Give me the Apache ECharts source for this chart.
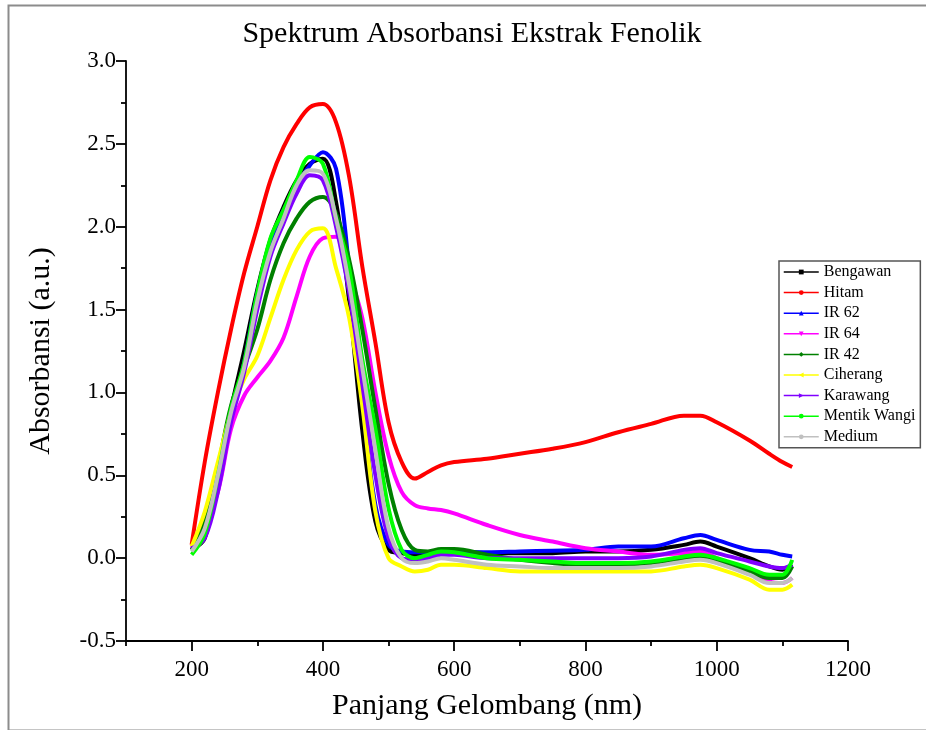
<!DOCTYPE html>
<html>
<head>
<meta charset="utf-8">
<script src="https://cdn.jsdelivr.net/npm/echarts@6/dist/echarts.min.js"></script>
<style>
html,body{margin:0;padding:0;background:#fff;}
#chart{width:926px;height:730px;}
</style>
</head>
<body>
<div id="chart"></div>
<script>
// ---- data ----
const wavelengths = [200,220,240,260,280,300,320,340,360,380,400,420,440,460,480,500,520,540,560,580,600,650,700,750,800,850,900,950,975,1000,1050,1080,1100,1115];
const bengawan    = [0.05,0.12,0.48,0.90,1.25,1.62,1.92,2.12,2.28,2.38,2.41,2.15,1.55,0.77,0.22,0.05,0.03,0.02,0.03,0.04,0.04,0.03,0.03,0.03,0.04,0.04,0.05,0.08,0.10,0.07,0.00,-0.05,-0.07,-0.04];
const hitam       = [0.08,0.58,1.00,1.38,1.72,2.00,2.28,2.48,2.62,2.72,2.74,2.63,2.30,1.76,1.30,0.82,0.58,0.48,0.52,0.56,0.58,0.60,0.63,0.66,0.70,0.76,0.81,0.86,0.86,0.82,0.71,0.63,0.58,0.55];
const ir62        = [0.05,0.14,0.46,0.86,1.18,1.60,1.90,2.10,2.25,2.37,2.45,2.35,1.75,0.95,0.32,0.08,0.04,0.035,0.035,0.035,0.035,0.035,0.04,0.045,0.05,0.07,0.07,0.12,0.14,0.11,0.05,0.04,0.02,0.01];
const ir64        = [0.06,0.20,0.40,0.78,0.98,1.09,1.19,1.33,1.58,1.82,1.93,1.94,1.72,1.45,1.00,0.62,0.40,0.32,0.30,0.29,0.27,0.20,0.14,0.10,0.06,0.04,0.02,0.03,0.04,0.00,-0.08,-0.14,-0.15,-0.12];
const ir42        = [0.05,0.22,0.55,0.92,1.15,1.38,1.68,1.90,2.05,2.15,2.18,2.08,1.80,1.38,0.90,0.45,0.17,0.05,0.04,0.055,0.055,0.02,-0.01,-0.03,-0.04,-0.04,-0.03,0.00,0.01,-0.01,-0.08,-0.12,-0.12,-0.05];
const ciherang    = [0.07,0.28,0.58,0.88,1.08,1.22,1.45,1.68,1.86,1.97,1.99,1.75,1.45,0.92,0.28,0.00,-0.05,-0.08,-0.07,-0.04,-0.04,-0.06,-0.08,-0.08,-0.08,-0.08,-0.08,-0.05,-0.04,-0.06,-0.13,-0.19,-0.19,-0.16];
const karawang    = [0.06,0.12,0.40,0.82,1.12,1.50,1.82,2.02,2.20,2.31,2.28,2.00,1.60,1.05,0.50,0.12,0.00,-0.01,0.00,0.02,0.02,0.00,0.00,0.00,0.00,0.00,0.01,0.05,0.06,0.03,-0.02,-0.05,-0.06,-0.04];
const mentikWangi = [0.02,0.15,0.50,0.90,1.18,1.60,1.93,2.10,2.28,2.42,2.38,2.05,1.75,1.20,0.78,0.30,0.05,0.00,0.02,0.04,0.035,0.00,-0.01,-0.02,-0.03,-0.03,-0.02,0.01,0.02,0.00,-0.06,-0.10,-0.10,-0.01];
const medium      = [0.04,0.18,0.50,0.88,1.15,1.55,1.85,2.05,2.25,2.34,2.32,2.05,1.65,1.15,0.65,0.18,0.00,-0.03,-0.02,0.00,-0.01,-0.04,-0.05,-0.06,-0.06,-0.06,-0.05,-0.02,-0.01,-0.03,-0.10,-0.15,-0.15,-0.12];

const seriesNames  = ['Bengawan','Hitam','IR 62','IR 64','IR 42','Ciherang','Karawang','Mentik Wangi','Medium'];
const seriesValues = [bengawan, hitam, ir62, ir64, ir42, ciherang, karawang, mentikWangi, medium];
const xTickLabels  = [200,400,600,800,1000,1200];
const xMinorTicks  = [100,300,500,700,900,1100];
const yTickLabels  = [-0.5,0.0,0.5,1.0,1.5,2.0,2.5,3.0];

// ---- style ----
const colors  = ['#000000','#ff0000','#0000ff','#ff00ff','#008000','#ffff00','#8000ff','#00ff00','#c0c0c0'];
const symbols = ['rect','circle','triangle','triangle','diamond','triangle','triangle','circle','circle'];
const rotates = [0,0,0,180,0,90,-90,0,0];
const FONT = '"Liberation Serif","Times New Roman",serif';

const chart = echarts.init(document.getElementById('chart'), null, {renderer:'canvas'});

const series = seriesNames.map((name, i) => ({
  name: name,
  type: 'line',
  xAxisIndex: 0, yAxisIndex: 0,
  smooth: 0.35,
  showSymbol: false,
  symbol: symbols[i],
  symbolRotate: rotates[i],
  symbolSize: 5,
  lineStyle: {width: 4, color: colors[i]},
  itemStyle: {color: colors[i]},
  emphasis: {disabled: true},
  data: wavelengths.map((w, k) => [w, seriesValues[i][k]]),
  z: 2 + i
}));

const option = {
  animation: false,
  backgroundColor: '#ffffff',
  title: {
    text: 'Spektrum Absorbansi Ekstrak Fenolik',
    left: 467, top: 14, textAlign: 'center',
    textStyle: {fontFamily: FONT, fontSize: 30, fontWeight: 'normal', color: '#000'}
  },
  graphic: [{
    type: 'rect', left: 6, top: 3, silent: true,
    shape: {width: 940, height: 725},
    style: {fill: 'none', stroke: '#8c8c8c', lineWidth: 2}
  }],
  legend: {
    data: seriesNames,
    orient: 'vertical',
    left: 779, top: 261,
    padding: [3, 5, 3, 4],
    itemWidth: 35, itemHeight: 6, itemGap: 4.6,
    borderColor: '#555', borderWidth: 1.5,
    backgroundColor: '#fff',
    textStyle: {fontFamily: FONT, fontSize: 16, color: '#000', lineHeight: 16},
    lineStyle: {width: 1.5}
  },
  grid: {left: 126, right: 78, top: 61, bottom: 89, containLabel: false},
  xAxis: [{
    type: 'value', min: 100, max: 1200, interval: 100,
    name: 'Panjang Gelombang (nm)', nameLocation: 'middle', nameGap: 50,
    nameTextStyle: {fontFamily: FONT, fontSize: 30, color: '#000'},
    axisLine: {show: true, onZero: false, lineStyle: {color: '#000', width: 1.8}},
    axisTick: {show: true, inside: false, customValues: xTickLabels, length: 10, lineStyle: {color: '#000', width: 1.8}},
    axisLabel: {customValues: xTickLabels, formatter: v => String(v), fontFamily: FONT, fontSize: 23, color: '#000', margin: 17},
    splitLine: {show: false}
  }, {
    type: 'value', min: 100, max: 1200, position: 'bottom',
    axisLine: {show: false, onZeroAxisIndex: 1},
    axisTick: {show: true, customValues: xMinorTicks, length: 5, lineStyle: {color: '#000', width: 1.8}},
    axisLabel: {show: false},
    splitLine: {show: false}
  }],
  yAxis: [{
    type: 'value', min: -0.5, max: 3.0, interval: 0.5,
    name: 'Absorbansi (a.u.)', nameLocation: 'middle', nameGap: 70,
    nameTextStyle: {fontFamily: FONT, fontSize: 30, color: '#000'},
    axisLine: {show: true, onZero: false, lineStyle: {color: '#000', width: 1.8}},
    axisTick: {show: true, length: 10, lineStyle: {color: '#000', width: 1.8}},
    minorTick: {show: true, splitNumber: 2, length: 5, lineStyle: {color: '#000', width: 1.8}},
    axisLabel: {fontFamily: FONT, fontSize: 23, color: '#000', margin: 10,
      formatter: v => yTickLabels.includes(v) ? v.toFixed(1) : ''},
    splitLine: {show: false}
  }, {
    type: 'value', min: 0, max: 1, position: 'right', show: false
  }],
  series: series
};
chart.setOption(option);
</script>
</body>
</html>
